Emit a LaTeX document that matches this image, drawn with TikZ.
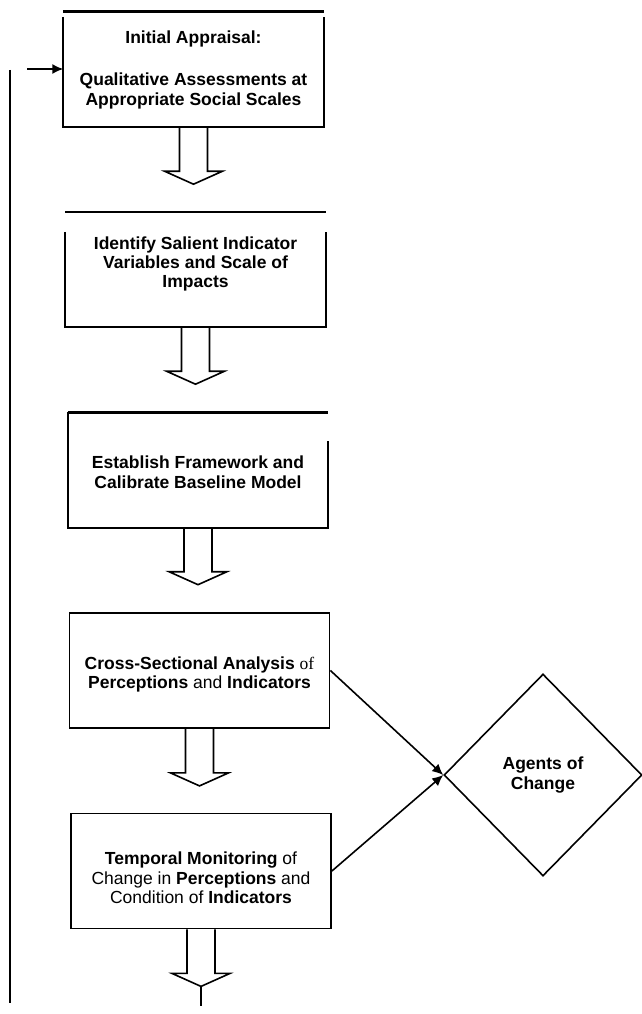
\documentclass[tikz,border=0pt]{standalone}
\usepackage{fontspec}
\setmainfont{Liberation Serif}
\setsansfont{Liberation Sans}
\usetikzlibrary{calc,arrows.meta,shapes.geometric}
\def\blockarrow(#1){\draw[arrowline] ($(#1)+(-14,0)$) -- ++(0,44) -- ++(-15,0) -- ++(29,13) -- ++(29,-13) -- ++(-15,0) -- ++(0,-44);}

\begin{document}
\begin{tikzpicture}[x=1pt,y=-1pt,
	stage/.style={minimum width=260pt, minimum height=115pt, inner sep=0pt, align=center,
		font=\sffamily\fontsize{17.5}{19.5}\selectfont},
	stagetext/.style={align=center, inner sep=0pt, font=\sffamily\fontsize{17.5}{19.5}\selectfont},
	boxline/.style={line width=1.8pt},
	arrowline/.style={line width=1.6pt, line join=miter},
	rule/.style={line width=2.6pt},
	agent/.style={diamond, draw, line width=1.6pt, minimum width=198pt, minimum height=202pt,
		inner sep=0pt, align=center, font=\sffamily\bfseries\fontsize{17.5}{19.5}\selectfont},
	feed/.style={line width=1.6pt, -{Latex[length=11pt,width=10pt]}}]
	\useasboundingbox (0,0) rectangle (642,1014);
	%%%%% STAGES %%%%%
	\node[stage, font=\sffamily\bfseries\fontsize{17.5}{19.5}\selectfont] (b1) at (193.5,69.5)
		{Initial Appraisal:\\[23pt]Qualitative Assessments at\\Appropriate Social Scales};
	\node[stage, font=\sffamily\bfseries\fontsize{17.5}{19}\selectfont] (b2) at (195.5,264)
		{Identify Salient Indicator\\Variables and Scale of\\Impacts};
	\node[stage, font=\sffamily\bfseries\fontsize{17.5}{20}\selectfont] (b3) at (198,472)
		{Establish Framework and\\Calibrate Baseline Model};
	\node[stage, draw, boxline, label={[stagetext, yshift=-4pt]center:
		\textbf{Cross-Sectional Analysis} {\rmfamily of}\\\textbf{Perceptions} and \textbf{Indicators}}]
		(b4) at (199.5,670.5) {};
	\node[stage, draw, boxline, label={[stagetext, yshift=-7pt]center:
		\textbf{Temporal Monitoring} of\\Change in \textbf{Perceptions} and\\Condition of \textbf{Indicators}}]
		(b5) at (201,871) {};
	\node[agent] (ag) at (543,775) {Agents of\\Change};

	%%%%% OPEN BOXES %%%%%
	\draw[rule] (b1.north west) -- (b1.north east);
	\draw[boxline] ($(b1.north west)+(0,5)$) -- (b1.south west) -- (b1.south east) -- ($(b1.north east)+(0,5)$);
	\coordinate (b2top) at ($(b2.north west)+(0,5.5)$);
	\coordinate (b2base) at ($(b2.south)+(0,5.5)$);
	\draw[rule] (b2top) -- (b2top -| b2.east);
	\draw[boxline] ($(b2.north west)+(0,25.5)$) -- (b2base -| b2.west) -- (b2base -| b2.east) -- ($(b2.north east)+(0,25.5)$);
	\coordinate (b3top) at ($(b3.north west)+(0,-2)$);
	\coordinate (b3base) at ($(b3.south)+(0,-2)$);
	\draw[rule] (b3top) -- (b3top -| b3.east);
	\draw[boxline] (b3top) -- (b3base -| b3.west) -- (b3base -| b3.east) -- ($(b3.north east)+(0,27)$);

	%%%%% BLOCK ARROWS %%%%%
	\blockarrow(b1.south)
	\blockarrow(b2base)
	\blockarrow(b3base)
	\blockarrow(b4.south)
	\blockarrow(b5.south)
	\coordinate (tip) at ($(b5.south)+(0,57)$);
	\coordinate (end) at ($(b5.south)+(0,77)$);
	\draw[arrowline] (tip) -- (end);

	%%%%% AGENTS %%%%%
	\draw[feed] (b4.east) -- (ag.west);
	\draw[feed] (b5.east) -- (ag.west);

	%%%%% FEEDBACK %%%%%
	\coordinate (fbtop) at (10,70);
	\coordinate (fbbot) at (10,1003);
	\coordinate (fbin) at (27,69);
	\draw[rule] (fbtop) -- (fbbot);
	\draw[feed] (fbin) -- (fbin -| b1.west);
\end{tikzpicture}
\end{document}
